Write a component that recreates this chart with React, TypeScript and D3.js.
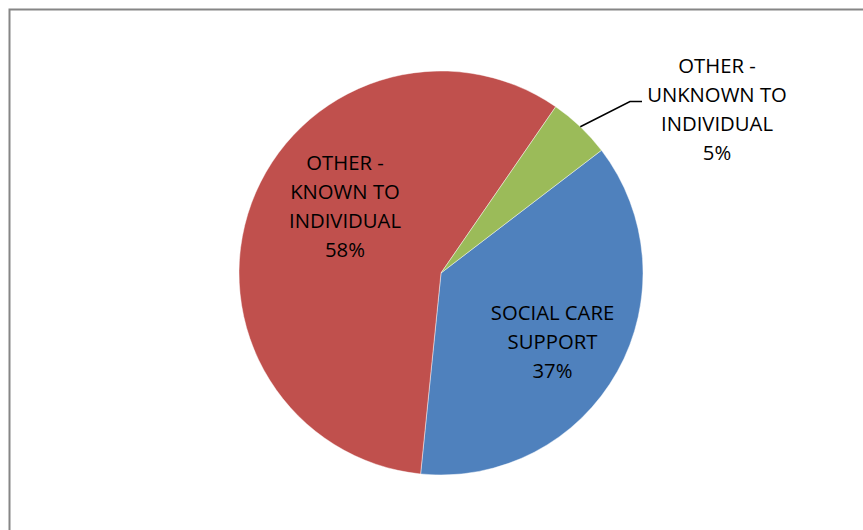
import React, { useEffect, useRef } from 'react'
import * as d3 from 'd3'

// slice order as drawn clockwise from the start angle
const categories = ['SOCIAL CARE SUPPORT', 'OTHER - KNOWN TO INDIVIDUAL', 'OTHER - UNKNOWN TO INDIVIDUAL']
const values = [37, 58, 5]
const colors = ['#4F81BD', '#C0504D', '#9BBB59']
const labelLines = [
    ['SOCIAL CARE', 'SUPPORT'],
    ['OTHER -', 'KNOWN TO', 'INDIVIDUAL'],
    ['OTHER -', 'UNKNOWN TO', 'INDIVIDUAL'],
]

export default function App() {
    const ref = useRef<SVGSVGElement | null>(null)

    const width = 863
    const height = 530
    const cx = 441
    const cy = 273
    const radius = 202
    const startDeg = 52.6
    const lineHeight = 29.3

    function draw() {
        var svg = d3.select(ref.current)
        svg.selectAll('*').remove()

        svg.attr('width', width).attr('height', height)

        svg.append('rect')
            .attr('x', 0).attr('y', 0)
            .attr('width', width).attr('height', height)
            .attr('fill', '#fff')

        // chart area border (only top and left are visible in the frame)
        svg.append('rect')
            .attr('x', 9.5).attr('y', 9.5)
            .attr('width', width + 20).attr('height', height + 20)
            .attr('fill', 'none')
            .attr('stroke', '#868686')
            .attr('stroke-width', 2)

        var start = (startDeg * Math.PI) / 180
        var pie = d3.pie<number>()
            .sort(null)
            .startAngle(start)
            .endAngle(start + Math.PI * 2)
        var arcs = pie(values)
        var arc = d3.arc<d3.PieArcDatum<number>>().innerRadius(0).outerRadius(radius)

        var g = svg.append('g').attr('transform', 'translate(' + cx + ',' + cy + ')')

        g.selectAll('path')
            .data(arcs)
            .enter().append('path')
            .attr('d', arc)
            .attr('fill', function (d, i) { return colors[i] })
            .attr('stroke', 'rgba(255,255,255,0.55)')
            .attr('stroke-width', 0.8)

        var total = d3.sum(values)
        var pct = function (v: number) { return Math.round((v / total) * 100) + '%' }

        // label anchors: centre x and first baseline y of each label block
        var anchors = [
            { x: 552.5, y: 319.5 },
            { x: 345, y: 169.5 },
            { x: 717, y: 72.5 },
        ]

        var labels = svg.append('g')
            .attr('font-family', '"Open Sans", sans-serif')
            .attr('font-size', 20.3)
            .attr('fill', '#000')
            .attr('text-anchor', 'middle')

        arcs.forEach(function (d, i) {
            var lines = labelLines[i].concat([pct(d.value)])
            var t = labels.append('text')
                .attr('x', anchors[i].x)
                .attr('y', anchors[i].y)
            lines.forEach(function (line, j) {
                t.append('tspan')
                    .attr('x', anchors[i].x)
                    .attr('dy', j === 0 ? 0 : lineHeight)
                    .text(line)
            })
        })

        // leader line for the small slice
        var green = arcs[2]
        var mid = (green.startAngle + green.endAngle) / 2
        var edge = [cx + Math.sin(mid) * radius, cy - Math.cos(mid) * radius]
        var leader = d3.line()
        svg.append('path')
            .attr('d', leader([[edge[0], edge[1]], [630, 101.5], [642, 101.5]]))
            .attr('fill', 'none')
            .attr('stroke', '#000')
            .attr('stroke-width', 1.5)
    }

    useEffect(() => {
        draw()
    }, [])

    return (
        <div style={{ position: 'absolute', left: 0, top: 0 }}>
            <svg ref={ref} style={{ display: 'block' }} />
        </div>
    )
}
